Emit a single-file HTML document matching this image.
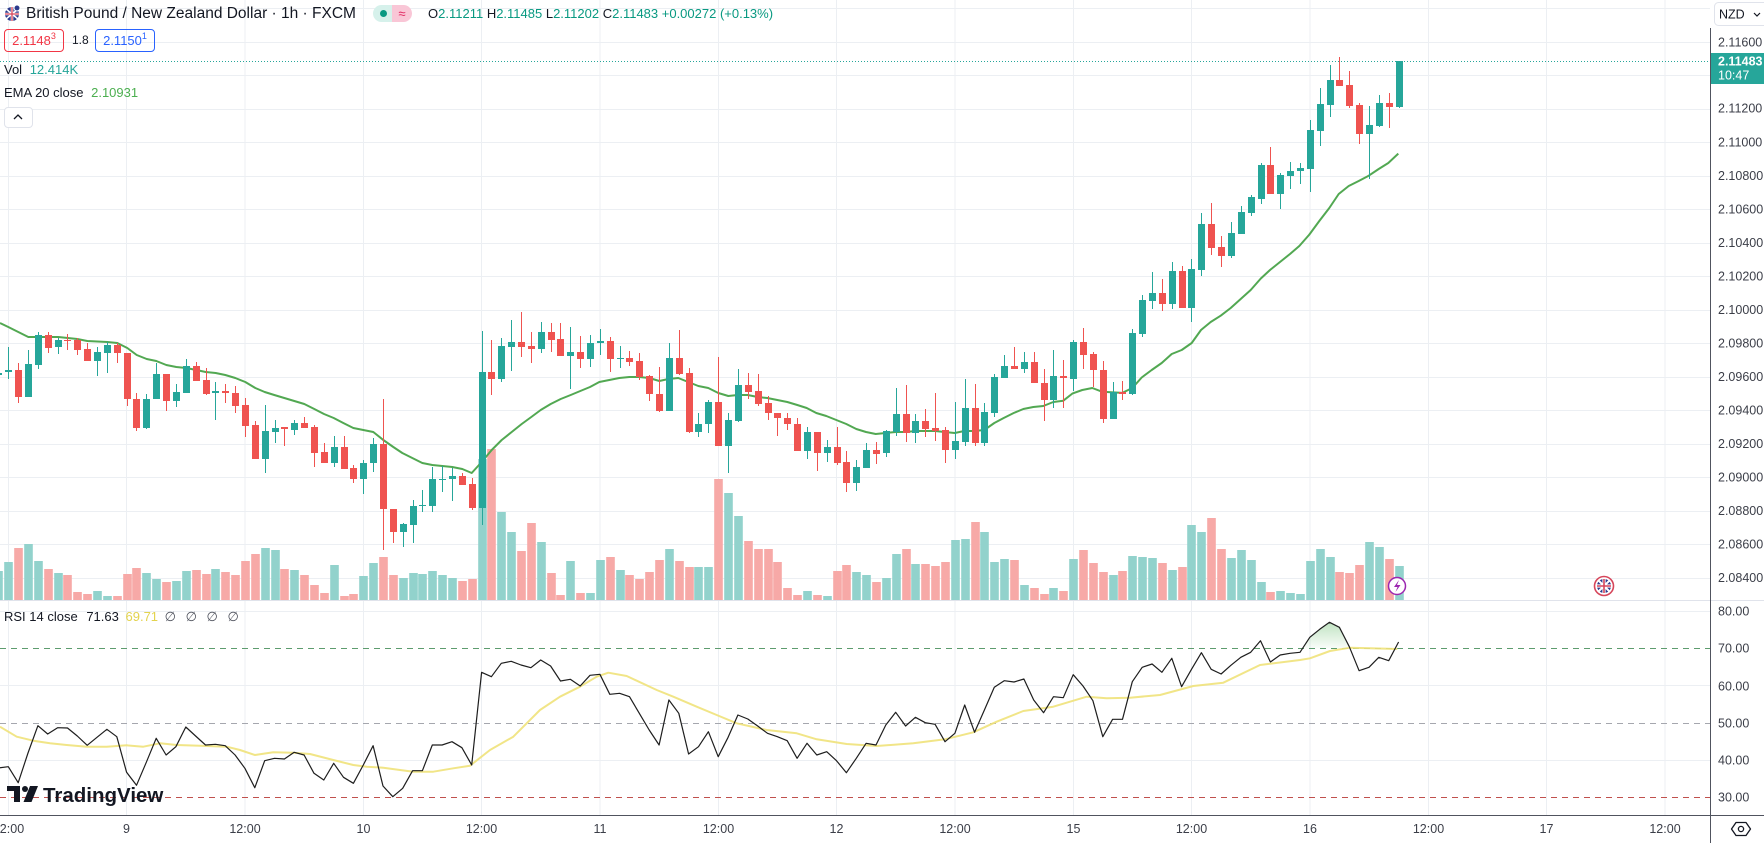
<!DOCTYPE html>
<html><head><meta charset="utf-8"><style>
html,body{margin:0;padding:0;background:#fff;}
body{width:1764px;height:843px;overflow:hidden;position:relative;font-family:"Liberation Sans",Arial,sans-serif;color:#131722;}
.a{position:absolute;white-space:nowrap;}
.t{font-size:13px;line-height:16px;}
.box{position:absolute;border:1px solid;border-radius:4px;font-size:13px;line-height:21px;text-align:center;box-sizing:border-box;height:23px;width:60px;}
sup{font-size:9px;vertical-align:top;line-height:12px;}
</style></head><body>
<svg width="1764" height="843" viewBox="0 0 1764 843" style="position:absolute;left:0;top:0" font-family="Liberation Sans, Arial, sans-serif">
<!-- grid -->
<g stroke="#eceff3" stroke-width="1">
<path d="M8.5 0V815M126.5 0V815M245 0V815M363.5 0V815M481.5 0V815M600 0V815M718.5 0V815M836.5 0V815M955 0V815M1073.5 0V815M1191.5 0V815M1310 0V815M1428.5 0V815M1546.5 0V815M1665 0V815"/>
<path d="M0 8.5H1710M0 42.5H1710M0 75.5H1710M0 109.5H1710M0 142.5H1710M0 176.5H1710M0 209.5H1710M0 243.5H1710M0 276.5H1710M0 310.5H1710M0 343.5H1710M0 377.5H1710M0 410.5H1710M0 444.5H1710M0 477.5H1710M0 511.5H1710M0 544.5H1710M0 578.5H1710"/>
<path d="M0 611.5H1710M0 685.5H1710M0 760.5H1710"/>
</g>
<!-- pane separator -->
<path d="M0 600.5H1764" stroke="#e0e3eb" stroke-width="1"/>
<!-- volume up -->
<g fill="#92d2cc">
<rect x="-5.8" y="571" width="8.6" height="29"/><rect x="4.2" y="562" width="8.6" height="38"/><rect x="24.2" y="544" width="8.6" height="56"/><rect x="34.2" y="561" width="8.6" height="39"/><rect x="54.2" y="573" width="8.6" height="27"/><rect x="93.2" y="591" width="8.6" height="9"/><rect x="103.2" y="596" width="8.6" height="4"/><rect x="142.2" y="573" width="8.6" height="27"/><rect x="152.2" y="579" width="8.6" height="21"/><rect x="172.2" y="581" width="8.6" height="19"/><rect x="182.2" y="571" width="8.6" height="29"/><rect x="211.2" y="569" width="8.6" height="31"/><rect x="261.2" y="548" width="8.6" height="52"/><rect x="271.2" y="550" width="8.6" height="50"/><rect x="290.2" y="570" width="8.6" height="30"/><rect x="330.2" y="565" width="8.6" height="35"/><rect x="359.2" y="576" width="8.6" height="24"/><rect x="369.2" y="563" width="8.6" height="37"/><rect x="399.2" y="578" width="8.6" height="22"/><rect x="409.2" y="573" width="8.6" height="27"/><rect x="418.2" y="574" width="8.6" height="26"/><rect x="428.2" y="571" width="8.6" height="29"/><rect x="438.2" y="575" width="8.6" height="25"/><rect x="448.2" y="578" width="8.6" height="22"/><rect x="478.2" y="459" width="8.6" height="141"/><rect x="497.2" y="512" width="8.6" height="88"/><rect x="507.2" y="532" width="8.6" height="68"/><rect x="537.2" y="542" width="8.6" height="58"/><rect x="566.2" y="561" width="8.6" height="39"/><rect x="586.2" y="593" width="8.6" height="7"/><rect x="596.2" y="560" width="8.6" height="40"/><rect x="616.2" y="570" width="8.6" height="30"/><rect x="665.2" y="549" width="8.6" height="51"/><rect x="694.2" y="567" width="8.6" height="33"/><rect x="704.2" y="567" width="8.6" height="33"/><rect x="724.2" y="493" width="8.6" height="107"/><rect x="734.2" y="516" width="8.6" height="84"/><rect x="803.2" y="591" width="8.6" height="9"/><rect x="823.2" y="596" width="8.6" height="4"/><rect x="852.2" y="572" width="8.6" height="28"/><rect x="862.2" y="575" width="8.6" height="25"/><rect x="882.2" y="578" width="8.6" height="22"/><rect x="892.2" y="554" width="8.6" height="46"/><rect x="911.2" y="564" width="8.6" height="36"/><rect x="951.2" y="540" width="8.6" height="60"/><rect x="961.2" y="539" width="8.6" height="61"/><rect x="980.2" y="532" width="8.6" height="68"/><rect x="990.2" y="562" width="8.6" height="38"/><rect x="1000.2" y="559" width="8.6" height="41"/><rect x="1020.2" y="585" width="8.6" height="15"/><rect x="1049.2" y="588" width="8.6" height="12"/><rect x="1069.2" y="559" width="8.6" height="41"/><rect x="1109.2" y="575" width="8.6" height="25"/><rect x="1128.2" y="556" width="8.6" height="44"/><rect x="1138.2" y="557" width="8.6" height="43"/><rect x="1148.2" y="558" width="8.6" height="42"/><rect x="1168.2" y="570" width="8.6" height="30"/><rect x="1187.2" y="525" width="8.6" height="75"/><rect x="1197.2" y="532" width="8.6" height="68"/><rect x="1227.2" y="558" width="8.6" height="42"/><rect x="1237.2" y="550" width="8.6" height="50"/><rect x="1247.2" y="560" width="8.6" height="40"/><rect x="1257.2" y="582" width="8.6" height="18"/><rect x="1276.2" y="591" width="8.6" height="9"/><rect x="1286.2" y="593" width="8.6" height="7"/><rect x="1296.2" y="594" width="8.6" height="6"/><rect x="1306.2" y="561" width="8.6" height="39"/><rect x="1316.2" y="549" width="8.6" height="51"/><rect x="1326.2" y="557" width="8.6" height="43"/><rect x="1365.2" y="542" width="8.6" height="58"/><rect x="1375.2" y="547" width="8.6" height="53"/><rect x="1395.2" y="566" width="8.6" height="34"/>
</g>
<!-- volume down -->
<g fill="#f7a9a7">
<rect x="14.2" y="548" width="8.6" height="52"/><rect x="44.2" y="569" width="8.6" height="31"/><rect x="63.2" y="575" width="8.6" height="25"/><rect x="73.2" y="592" width="8.6" height="8"/><rect x="83.2" y="594" width="8.6" height="6"/><rect x="113.2" y="596" width="8.6" height="4"/><rect x="123.2" y="574" width="8.6" height="26"/><rect x="132.2" y="568" width="8.6" height="32"/><rect x="162.2" y="582" width="8.6" height="18"/><rect x="192.2" y="570" width="8.6" height="30"/><rect x="202.2" y="574" width="8.6" height="26"/><rect x="221.2" y="572" width="8.6" height="28"/><rect x="231.2" y="575" width="8.6" height="25"/><rect x="241.2" y="561" width="8.6" height="39"/><rect x="251.2" y="554" width="8.6" height="46"/><rect x="280.2" y="569" width="8.6" height="31"/><rect x="300.2" y="575" width="8.6" height="25"/><rect x="310.2" y="585" width="8.6" height="15"/><rect x="320.2" y="593" width="8.6" height="7"/><rect x="340.2" y="596" width="8.6" height="4"/><rect x="349.2" y="594" width="8.6" height="6"/><rect x="379.2" y="557" width="8.6" height="43"/><rect x="389.2" y="575" width="8.6" height="25"/><rect x="458.2" y="581" width="8.6" height="19"/><rect x="468.2" y="579" width="8.6" height="21"/><rect x="487.2" y="449" width="8.6" height="151"/><rect x="517.2" y="551" width="8.6" height="49"/><rect x="527.2" y="523" width="8.6" height="77"/><rect x="547.2" y="573" width="8.6" height="27"/><rect x="556.2" y="595" width="8.6" height="5"/><rect x="576.2" y="593" width="8.6" height="7"/><rect x="606.2" y="557" width="8.6" height="43"/><rect x="625.2" y="575" width="8.6" height="25"/><rect x="635.2" y="579" width="8.6" height="21"/><rect x="645.2" y="572" width="8.6" height="28"/><rect x="655.2" y="560" width="8.6" height="40"/><rect x="675.2" y="561" width="8.6" height="39"/><rect x="685.2" y="567" width="8.6" height="33"/><rect x="714.2" y="479" width="8.6" height="121"/><rect x="744.2" y="541" width="8.6" height="59"/><rect x="754.2" y="549" width="8.6" height="51"/><rect x="764.2" y="549" width="8.6" height="51"/><rect x="773.2" y="562" width="8.6" height="38"/><rect x="783.2" y="588" width="8.6" height="12"/><rect x="793.2" y="595" width="8.6" height="5"/><rect x="813.2" y="595" width="8.6" height="5"/><rect x="833.2" y="571" width="8.6" height="29"/><rect x="842.2" y="565" width="8.6" height="35"/><rect x="872.2" y="582" width="8.6" height="18"/><rect x="902.2" y="549" width="8.6" height="51"/><rect x="921.2" y="564" width="8.6" height="36"/><rect x="931.2" y="566" width="8.6" height="34"/><rect x="941.2" y="562" width="8.6" height="38"/><rect x="971.2" y="522" width="8.6" height="78"/><rect x="1010.2" y="560" width="8.6" height="40"/><rect x="1030.2" y="588" width="8.6" height="12"/><rect x="1040.2" y="594" width="8.6" height="6"/><rect x="1059.2" y="591" width="8.6" height="9"/><rect x="1079.2" y="550" width="8.6" height="50"/><rect x="1089.2" y="563" width="8.6" height="37"/><rect x="1099.2" y="572" width="8.6" height="28"/><rect x="1118.2" y="571" width="8.6" height="29"/><rect x="1158.2" y="563" width="8.6" height="37"/><rect x="1178.2" y="567" width="8.6" height="33"/><rect x="1207.2" y="518" width="8.6" height="82"/><rect x="1217.2" y="549" width="8.6" height="51"/><rect x="1266.2" y="592" width="8.6" height="8"/><rect x="1335.2" y="572" width="8.6" height="28"/><rect x="1345.2" y="573" width="8.6" height="27"/><rect x="1355.2" y="565" width="8.6" height="35"/><rect x="1385.2" y="559" width="8.6" height="41"/>
</g>
<!-- current price dotted line -->
<path d="M0 61.5H1710" stroke="#26a69a" stroke-width="1" stroke-dasharray="1 2"/>
<!-- EMA -->
<polyline fill="none" stroke="#52a852" stroke-width="2" stroke-linejoin="round" points="0,323 8.3,327 18.3,332 28.3,337 38.3,337 58.3,337 77.3,339 87.3,341 107.3,342 117.3,343 127.3,348 136.7,355 146.7,359 156.3,361 166.3,365 176.3,367 186.3,368 196.3,370 205.7,372 215.7,373 225.3,375 235.3,378 245.3,382 255.3,388 264.7,392 274.3,395 284.3,398 294.3,401 304.3,404 314.3,409 324,414 333.7,418 343.3,423 353.3,428 363.3,430 373.3,432 383.3,440 393.3,447 402.3,453 412.3,458 422.3,463 432.3,465 442.3,466 452.3,467 462.3,469 471.7,473 481.7,462 491.7,450 501.7,440 511.7,432 521.7,424 531.3,417 540.7,410 550.7,404 560.7,399 570.7,395 580.3,391 590,387 599.3,382 609.3,380 619.3,378 629.3,377 639.3,377 649.3,378 659.3,381 668.3,379 678.3,378 688.3,382 698.3,386 708.3,388 718.3,393 728.3,396 737.7,395 747.7,395 757.7,397 767.3,398 777.3,400 787.3,402 797.3,405 806.7,408 816.3,413 826.3,416 836.3,420 846.3,424 856.3,429 866,432 875.7,434 885.7,433 895.7,432 905.7,432 915.7,431 925.7,431 935,431 944.7,432 954.7,433 964.3,431 974.3,431 984.3,430 994.3,423 1003.7,418 1013.7,413 1023.3,409 1033.3,407 1043.3,406 1053.3,402 1063.3,400.7 1072.3,393.6 1082.3,390 1092.3,388 1102.3,391.8 1122.3,392.9 1132.3,388 1141.7,377.5 1151.7,370 1161.7,363 1171.7,354 1181.7,350 1191.7,343 1201,330 1210.7,322 1220.7,315.7 1230.7,308 1240.7,299 1250.7,290 1260.7,278.6 1270,270 1280,262 1290,254 1299.3,246 1309.3,234.6 1319.3,221 1329.3,208 1338.7,194 1348.7,186 1358.7,181 1368.7,175.7 1378.7,169 1388.3,163 1398.3,153.6"/>
<!-- up candles -->
<g fill="#26a69a">
<path stroke="#26a69a" stroke-width="1" d="M-1.5 371V377M8.5 347V379M28.5 350V397M38.5 332V369M58.5 338V354M97.5 347V376M107.5 342V373M146.5 394V429M156.5 363V399M176.5 384V407M186.5 359V393M215.5 382V420M265.5 405V473M275.5 420V443M294.5 420V435M334.5 436V467M363.5 460V494M373.5 438V472M403.5 523V547M413.5 500V543M422.5 490V512M432.5 467V512M442.5 466V492M452.5 468V501M482.5 331V525M501.5 338V382M511.5 320V371M541.5 322V353M570.5 327V389M590.5 335V367M600.5 329V355M620.5 346V368M669.5 343V411M698.5 413V437M708.5 400V433M728.5 413V473M738.5 369V422M807.5 427V459M827.5 440V462M856.5 460V491M866.5 443V468M886.5 430V457M896.5 388V436M915.5 414V443M955.5 402V459M965.5 379V446M984.5 403V446M994.5 374V417M1004.5 355V378M1024.5 352V373M1053.5 350V408M1073.5 340V391M1113.5 382V419M1132.5 329V395M1142.5 295V337M1152.5 272V309M1172.5 262V309M1191.5 259V322M1201.5 213V276M1231.5 222V258M1241.5 206V234M1251.5 195V216M1261.5 163V204M1280.5 173V209M1290.5 162V189M1300.5 163V184M1310.5 120V192M1320.5 88V146M1330.5 65V117M1369.5 106V179M1379.5 95V127M1399.5 61V108"/>
<rect x="-5" y="373" width="7" height="2"/><rect x="5" y="370" width="7" height="2"/><rect x="25" y="364" width="7" height="33"/><rect x="35" y="335" width="7" height="30"/><rect x="55" y="340" width="7" height="7"/><rect x="94" y="352" width="7" height="9"/><rect x="104" y="345" width="7" height="8"/><rect x="143" y="399" width="7" height="29"/><rect x="153" y="374" width="7" height="25"/><rect x="173" y="392" width="7" height="9"/><rect x="183" y="366" width="7" height="27"/><rect x="212" y="391" width="7" height="2"/><rect x="262" y="431" width="7" height="28"/><rect x="272" y="428" width="7" height="4"/><rect x="291" y="423" width="7" height="7"/><rect x="331" y="447" width="7" height="16"/><rect x="360" y="463" width="7" height="16"/><rect x="370" y="444" width="7" height="19"/><rect x="400" y="524" width="7" height="8"/><rect x="410" y="506" width="7" height="19"/><rect x="419" y="505" width="7" height="1"/><rect x="429" y="479" width="7" height="27"/><rect x="439" y="479" width="7" height="1"/><rect x="449" y="476" width="7" height="3"/><rect x="479" y="372" width="7" height="136"/><rect x="498" y="346" width="7" height="33"/><rect x="508" y="342" width="7" height="5"/><rect x="538" y="332" width="7" height="17"/><rect x="567" y="352" width="7" height="4"/><rect x="587" y="343" width="7" height="16"/><rect x="597" y="341" width="7" height="2"/><rect x="617" y="358" width="7" height="1"/><rect x="666" y="358" width="7" height="53"/><rect x="695" y="424" width="7" height="8"/><rect x="705" y="402" width="7" height="22"/><rect x="725" y="420" width="7" height="26"/><rect x="735" y="385" width="7" height="36"/><rect x="804" y="432" width="7" height="19"/><rect x="824" y="447" width="7" height="6"/><rect x="853" y="467" width="7" height="16"/><rect x="863" y="450" width="7" height="18"/><rect x="883" y="431" width="7" height="22"/><rect x="893" y="414" width="7" height="18"/><rect x="912" y="421" width="7" height="12"/><rect x="952" y="441" width="7" height="9"/><rect x="962" y="408" width="7" height="34"/><rect x="981" y="412" width="7" height="31"/><rect x="991" y="377" width="7" height="36"/><rect x="1001" y="366" width="7" height="12"/><rect x="1021" y="362" width="7" height="7"/><rect x="1050" y="376" width="7" height="24"/><rect x="1070" y="342" width="7" height="37"/><rect x="1110" y="392" width="7" height="27"/><rect x="1129" y="333" width="7" height="61"/><rect x="1139" y="300" width="7" height="34"/><rect x="1149" y="293" width="7" height="8"/><rect x="1169" y="271" width="7" height="33"/><rect x="1188" y="269" width="7" height="39"/><rect x="1198" y="224" width="7" height="46"/><rect x="1228" y="233" width="7" height="23"/><rect x="1238" y="212" width="7" height="22"/><rect x="1248" y="197" width="7" height="16"/><rect x="1258" y="165" width="7" height="34"/><rect x="1277" y="175" width="7" height="19"/><rect x="1287" y="171" width="7" height="5"/><rect x="1297" y="168" width="7" height="3"/><rect x="1307" y="130" width="7" height="39"/><rect x="1317" y="104" width="7" height="27"/><rect x="1327" y="80" width="7" height="25"/><rect x="1366" y="125" width="7" height="9"/><rect x="1376" y="103" width="7" height="23"/><rect x="1396" y="61" width="7" height="46"/>
</g>
<!-- down candles -->
<g fill="#ef5350">
<path stroke="#ef5350" stroke-width="1" d="M18.5 363V403M48.5 332V353M67.5 334V350M77.5 338V355M87.5 343V361M117.5 343V363M127.5 353V406M136.5 393V431M166.5 374V411M196.5 362V381M206.5 368V395M225.5 384V403M235.5 386V413M245.5 398V437M255.5 421V459M284.5 427V446M304.5 417V428M314.5 425V467M324.5 443V463M344.5 436V469M353.5 465V483M383.5 399V550M393.5 509V543M462.5 473V485M472.5 478V510M491.5 340V395M521.5 312V357M531.5 332V363M551.5 323V352M560.5 323V356M580.5 336V368M610.5 337V372M629.5 351V366M639.5 353V380M649.5 375V401M659.5 367V412M679.5 330V375M689.5 368V433M718.5 357V446M748.5 373V399M758.5 374V406M768.5 396V420M777.5 413V436M787.5 413V430M797.5 418V451M817.5 432V471M837.5 427V465M846.5 451V492M876.5 442V464M906.5 385V442M925.5 409V437M935.5 393V441M945.5 427V463M975.5 384V446M1014.5 347V369M1034.5 352V383M1044.5 369V421M1063.5 360V408M1083.5 328V369M1093.5 352V387M1103.5 361V423M1122.5 381V400M1162.5 279V311M1182.5 266V308M1211.5 203V255M1221.5 236V267M1270.5 147V194M1339.5 57V86M1349.5 71V108M1359.5 103V144M1389.5 93V128"/>
<rect x="15" y="370" width="7" height="27"/><rect x="45" y="335" width="7" height="13"/><rect x="64" y="340" width="7" height="1"/><rect x="74" y="340" width="7" height="10"/><rect x="84" y="349" width="7" height="12"/><rect x="114" y="345" width="7" height="8"/><rect x="124" y="353" width="7" height="46"/><rect x="133" y="399" width="7" height="29"/><rect x="163" y="374" width="7" height="27"/><rect x="193" y="366" width="7" height="15"/><rect x="203" y="380" width="7" height="14"/><rect x="222" y="391" width="7" height="2"/><rect x="232" y="393" width="7" height="13"/><rect x="242" y="405" width="7" height="21"/><rect x="252" y="425" width="7" height="34"/><rect x="281" y="427" width="7" height="2"/><rect x="301" y="423" width="7" height="5"/><rect x="311" y="427" width="7" height="26"/><rect x="321" y="452" width="7" height="11"/><rect x="341" y="447" width="7" height="22"/><rect x="350" y="468" width="7" height="11"/><rect x="380" y="444" width="7" height="65"/><rect x="390" y="509" width="7" height="23"/><rect x="459" y="476" width="7" height="9"/><rect x="469" y="484" width="7" height="24"/><rect x="488" y="372" width="7" height="7"/><rect x="518" y="342" width="7" height="5"/><rect x="528" y="346" width="7" height="3"/><rect x="548" y="332" width="7" height="8"/><rect x="557" y="339" width="7" height="17"/><rect x="577" y="352" width="7" height="7"/><rect x="607" y="341" width="7" height="18"/><rect x="626" y="358" width="7" height="4"/><rect x="636" y="361" width="7" height="16"/><rect x="646" y="376" width="7" height="18"/><rect x="656" y="394" width="7" height="17"/><rect x="676" y="358" width="7" height="16"/><rect x="686" y="373" width="7" height="59"/><rect x="715" y="402" width="7" height="44"/><rect x="745" y="385" width="7" height="7"/><rect x="755" y="391" width="7" height="13"/><rect x="765" y="403" width="7" height="10"/><rect x="774" y="413" width="7" height="5"/><rect x="784" y="418" width="7" height="6"/><rect x="794" y="424" width="7" height="27"/><rect x="814" y="432" width="7" height="21"/><rect x="834" y="447" width="7" height="16"/><rect x="843" y="462" width="7" height="21"/><rect x="873" y="450" width="7" height="4"/><rect x="903" y="414" width="7" height="19"/><rect x="922" y="421" width="7" height="8"/><rect x="932" y="428" width="7" height="3"/><rect x="942" y="430" width="7" height="20"/><rect x="972" y="408" width="7" height="35"/><rect x="1011" y="366" width="7" height="3"/><rect x="1031" y="362" width="7" height="21"/><rect x="1041" y="383" width="7" height="17"/><rect x="1060" y="376" width="7" height="2"/><rect x="1080" y="342" width="7" height="13"/><rect x="1090" y="354" width="7" height="16"/><rect x="1100" y="370" width="7" height="49"/><rect x="1119" y="392" width="7" height="2"/><rect x="1159" y="293" width="7" height="11"/><rect x="1179" y="271" width="7" height="37"/><rect x="1208" y="224" width="7" height="24"/><rect x="1218" y="247" width="7" height="9"/><rect x="1267" y="165" width="7" height="29"/><rect x="1336" y="80" width="7" height="6"/><rect x="1346" y="85" width="7" height="21"/><rect x="1356" y="105" width="7" height="29"/><rect x="1386" y="103" width="7" height="4"/>
</g>
<!-- lightning icon -->
<circle cx="1397" cy="586" r="8.5" fill="#fff" stroke="#9c27b0" stroke-width="1.5"/>
<path d="M1399 580L1394 587H1397.5L1395.5 592L1400.5 585H1397Z" fill="#9c27b0"/>
<!-- UK flag icon -->
<circle cx="1604" cy="586" r="9.5" fill="#fff" stroke="#d6455a" stroke-width="1.6"/>
<circle cx="1604" cy="586" r="7" fill="#2b3a8c"/>
<path d="M1598 580L1610 592M1610 580L1598 592" stroke="#fff" stroke-width="2"/>
<path d="M1604 579V593M1597 586H1611" stroke="#fff" stroke-width="3.2"/>
<path d="M1604 579V593M1597 586H1611" stroke="#d6455a" stroke-width="1.6"/>
<!-- RSI bands -->
<path d="M0 648.5H1710" stroke="#5d9c6e" stroke-width="1" stroke-dasharray="6 5"/>
<path d="M0 723.5H1710" stroke="#a5a7ae" stroke-width="1" stroke-dasharray="6 5"/>
<path d="M0 797.5H1710" stroke="#c0504d" stroke-width="1" stroke-dasharray="6 5"/>
<defs><linearGradient id="gf" x1="0" y1="0" x2="0" y2="1"><stop offset="0" stop-color="#4caf50" stop-opacity="0.35"/><stop offset="1" stop-color="#4caf50" stop-opacity="0.03"/></linearGradient></defs>
<polygon fill="url(#gf)" points="1302.6,648.5 1309.8,637.3 1319.7,629.3 1329.5,622.3 1339.4,627.3 1349.3,646.7 1350,648.5"/>
<!-- RSI MA -->
<polyline fill="none" stroke="#f0e27a" stroke-opacity="0.9" stroke-width="2" stroke-linejoin="round" points="0,726.7 16.7,736.7 33.3,740.7 50,743.3 66.7,745 86.7,746.7 106.7,746.7 126.7,745.3 143.3,746.7 160,743.3 176.7,745 200,745.7 226.7,746.7 240,750 255,755 273.3,752.3 293.3,752.7 310,754 333.3,760 353.3,765 366.7,766.7 383.3,767.7 400,770 413.3,771.7 433.3,771.7 453.3,768.3 470,765.7 490,750 513.3,736.7 540,710 560,696.7 580,686.7 596.7,676.7 608.3,672.7 626.7,676 656.7,690 673.3,696.7 696.7,706.7 716.7,715 736.7,723.3 766.7,730 796.7,733.3 816.7,739.3 846.7,744 876.7,746 913.3,743.3 945,739.3 973.3,732.3 996.7,721.7 1023.3,711 1053.3,706.7 1086.7,696.7 1106.7,698.3 1130,697.7 1160,695 1193.3,686 1223.3,682.7 1260,665 1300,660 1310,658.3 1330,651 1350,647.7 1370,648.3 1397.3,649"/>
<!-- RSI -->
<polyline fill="none" stroke="#1e1e1e" stroke-width="1.2" stroke-linejoin="round" points="-1.6,768 8.3,766.7 18.2,782.7 28,753 37.9,725.7 47.7,734 57.6,727.7 67.5,728 77.3,736 87.2,745.3 97,737.3 106.9,729.3 116.8,736.7 126.6,772.3 136.5,785.3 146.3,762.3 156.2,738.3 166.1,755 175.9,746.7 185.8,727 195.6,736 205.5,745 215.4,744.3 225.2,745.7 235.1,755 244.9,768.3 254.8,787.7 264.7,760.7 274.5,758.3 284.4,759 294.2,752.3 304.1,755 314,773.3 323.8,780 333.7,763.3 343.5,777.3 353.4,783.3 363.3,765 373.1,745.7 383,786 392.8,796.7 402.7,788.3 412.6,770.7 422.4,770.7 432.3,745 442.1,745 452,741.7 461.9,747.7 471.7,765 481.6,672.3 491.4,676.7 501.3,663.3 511.2,661.3 521,665 530.9,667.7 540.7,660 550.6,666 560.5,681 570.3,679.3 580.2,686 590,675.3 599.9,674.3 609.8,694.3 619.6,693.3 629.5,696.7 639.3,713.3 649.2,730 659.1,745 668.9,700 678.8,713.3 688.6,754 698.5,746.7 708.4,731.7 718.2,756.7 728.1,737.3 737.9,715 747.8,719 757.7,726 767.5,733.3 777.4,736.7 787.2,740.7 797.1,758.3 807,743.3 816.8,755 826.7,751.7 836.5,760.7 846.4,772.7 856.3,758.3 866.1,743.3 876,745 885.8,725 895.7,712.3 905.6,726 915.4,717.3 925.3,722.7 935.1,724.3 945,741.7 954.9,733.3 964.7,705 974.6,732.3 984.4,710 994.3,687.3 1004.2,680.7 1014,682 1023.9,679 1033.7,700 1043.6,712.7 1053.5,696.7 1063.3,697.7 1073.2,674.7 1083,686 1092.9,700.7 1102.8,736.7 1112.6,719.3 1122.5,719.3 1132.3,681.7 1142.2,667.3 1152.1,664 1161.9,672.3 1171.8,658.3 1181.6,686.7 1191.5,669.3 1201.4,652.7 1211.2,669.3 1221.1,674 1230.9,665.3 1240.8,657.3 1250.7,652.3 1260.5,640.7 1270.4,662 1280.2,655 1290.1,653.3 1300,652.3 1309.8,637.3 1319.7,629.3 1329.5,622.3 1339.4,627.3 1349.3,646.7 1359.1,670.7 1369,667.3 1378.8,657.3 1388.7,660.7 1398.6,642"/>
<!-- TradingView logo -->
<g fill="#131722">
<path d="M7 786H20V802H14V791H7Z"/>
<circle cx="25" cy="789" r="3"/>
<path d="M30 786H38L31.5 802H23.5Z"/>
</g>
<text x="43" y="802" font-size="20.5" font-weight="bold" fill="#131722">TradingView</text>
<!-- axes frame -->
<path d="M1710.5 28V843" stroke="#50535e" stroke-width="1"/>
<path d="M0 815.5H1764" stroke="#50535e" stroke-width="1"/>
<!-- price axis labels -->
<g font-size="12.5" fill="#3b3e48">
<text x="1718" y="46.5">2.11600</text>
<text x="1718" y="112.5">2.11200</text>
<text x="1718" y="146.5">2.11000</text>
<text x="1718" y="180">2.10800</text>
<text x="1718" y="213.5">2.10600</text>
<text x="1718" y="247">2.10400</text>
<text x="1718" y="280.5">2.10200</text>
<text x="1718" y="314">2.10000</text>
<text x="1718" y="347.5">2.09800</text>
<text x="1718" y="381">2.09600</text>
<text x="1718" y="414.5">2.09400</text>
<text x="1718" y="448">2.09200</text>
<text x="1718" y="481.5">2.09000</text>
<text x="1718" y="515">2.08800</text>
<text x="1718" y="548.5">2.08600</text>
<text x="1718" y="582">2.08400</text>
<text x="1718" y="615.5">80.00</text>
<text x="1718" y="652.5">70.00</text>
<text x="1718" y="690.5">60.00</text>
<text x="1718" y="727.5">50.00</text>
<text x="1718" y="764.5">40.00</text>
<text x="1718" y="801.5">30.00</text>
</g>
<!-- current price label -->
<rect x="1711" y="53" width="53" height="31" fill="#26a69a"/>
<text x="1718" y="65.5" font-size="12.5" font-weight="bold" fill="#fff">2.11483</text>
<text x="1718" y="79.5" font-size="12.5" fill="#fff">10:47</text>
<!-- NZD -->
<rect x="1714.5" y="2.5" width="56" height="23" rx="4" fill="#fff" stroke="#e0e3eb"/>
<text x="1719" y="18.5" font-size="12.5" fill="#131722">NZD</text>
<path d="M1754 13L1757 16L1760 13" fill="none" stroke="#131722" stroke-width="1.2"/>
<!-- time axis -->
<g font-size="12.5" fill="#3b3e48" text-anchor="middle">
<text x="8.5" y="833">12:00</text>
<text x="126.5" y="833">9</text>
<text x="245" y="833">12:00</text>
<text x="363.5" y="833">10</text>
<text x="481.5" y="833">12:00</text>
<text x="600" y="833">11</text>
<text x="718.5" y="833">12:00</text>
<text x="836.5" y="833">12</text>
<text x="955" y="833">12:00</text>
<text x="1073.5" y="833">15</text>
<text x="1191.5" y="833">12:00</text>
<text x="1310" y="833">16</text>
<text x="1428.5" y="833">12:00</text>
<text x="1546.5" y="833">17</text>
<text x="1665" y="833">12:00</text>
</g>
<!-- settings icon -->
<path d="M1736 822.5H1746L1750.5 829L1746 835.5H1736L1731.5 829Z" fill="none" stroke="#131722" stroke-width="1.3" stroke-linejoin="round"/>
<circle cx="1741" cy="829" r="2.6" fill="none" stroke="#131722" stroke-width="1.3"/>
<!-- header flag -->
<circle cx="12" cy="14" r="7" fill="#2b3a8c"/>
<path d="M6 9L18 19M18 9L6 19" stroke="#fff" stroke-width="1.6"/>
<path d="M12 7V21M5 14H19" stroke="#fff" stroke-width="2.6"/>
<path d="M12 7V21M5 14H19" stroke="#d6455a" stroke-width="1.3"/>
<circle cx="17" cy="8" r="3" fill="#2b3a8c" stroke="#fff" stroke-width="1"/>
</svg>

<div class="a" style="left:26px;top:5px;font-size:15.5px;line-height:18px;color:#131722;">British Pound / New Zealand Dollar · 1h · FXCM</div>
<div class="a" style="left:373px;top:5px;width:19px;height:17px;background:#d6f1eb;border-radius:9px 0 0 9px;"></div>
<div class="a" style="left:380px;top:10px;width:7px;height:7px;border-radius:50%;background:#089981;"></div>
<div class="a" style="left:392px;top:5px;width:20px;height:17px;background:#f9c6d6;border-radius:0 9px 9px 0;color:#e0245e;font-size:13px;line-height:17px;text-align:center;">≈</div>
<div class="a t" style="left:428px;top:6px;color:#089981;"><span style="color:#131722">O</span>2.11211 <span style="color:#131722">H</span>2.11485 <span style="color:#131722">L</span>2.11202 <span style="color:#131722">C</span>2.11483 +0.00272 (+0.13%)</div>

<div class="box" style="left:4px;top:29px;border-color:#f23645;color:#f23645;">2.1148<sup>3</sup></div>
<div class="a" style="left:72px;top:33px;font-size:12px;line-height:15px;">1.8</div>
<div class="box" style="left:95px;top:29px;border-color:#2962ff;color:#2962ff;">2.1150<sup>1</sup></div>

<div class="a t" style="left:4px;top:62px;">Vol <span style="color:#26a69a;margin-left:4px;">12.414K</span></div>
<div class="a t" style="left:4px;top:85px;">EMA 20 close <span style="color:#4caf50;margin-left:4px;">2.10931</span></div>
<div class="a" style="left:4px;top:107px;width:27px;height:19px;border:1px solid #e0e3eb;border-radius:4px;background:#fff;"></div>
<svg class="a" style="left:12px;top:113px" width="12" height="8"><path d="M2 6L6 2L10 6" fill="none" stroke="#131722" stroke-width="1.3"/></svg>

<div class="a t" style="left:4px;top:609px;">RSI 14 close <span style="margin-left:5px;">71.63</span> <span style="color:#e3d34e;margin-left:3px;">69.71</span> <span style="color:#50535e;margin-left:3px;letter-spacing:3px;">∅ ∅ ∅ ∅</span></div>
</body></html>
